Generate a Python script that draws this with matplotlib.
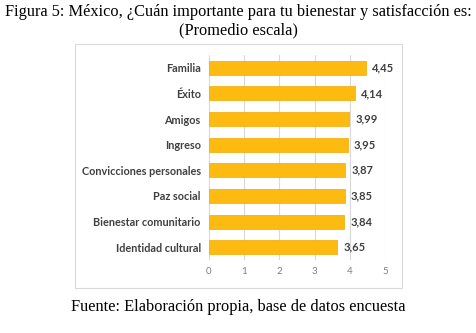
import matplotlib.pyplot as plt
from matplotlib.patches import Rectangle

categorias = ["Familia", "Éxito", "Amigos", "Ingreso", "Convicciones personales",
              "Paz social", "Bienestar comunitario", "Identidad cultural"]
valores = [4.45, 4.14, 3.99, 3.95, 3.87, 3.85, 3.84, 3.65]
ticks = [0, 1, 2, 3, 4, 5]

fig = plt.figure(figsize=(4.76, 3.33), dpi=100)
fig.patch.set_facecolor("white")

# marco del grafico
fig.add_artist(Rectangle((75 / 476, 1 - 288 / 333), 327 / 476, 244 / 333,
                         transform=fig.transFigure, fill=False,
                         edgecolor="#D9D9D9", linewidth=0.8))

ax = fig.add_axes([209 / 476, 1 - 260 / 333, 176 / 476, 205 / 333])
y = list(range(len(categorias)))
ax.barh(y, valores, height=0.55, color="#FDBB12", edgecolor="#F0AA00", linewidth=0.5, zorder=3)
ax.set_ylim(len(categorias) - 0.5, -0.5)
ax.set_xlim(0, 5)
ax.set_xticks(ticks)
ax.set_xticklabels([str(t) for t in ticks], fontsize=7, color="#808080", family="Lato")
ax.set_yticks(y)
ax.set_yticklabels(categorias, fontsize=7.8, color="#404040", fontweight="bold", family="Lato")
ax.tick_params(length=0, pad=6)
ax.tick_params(axis="x", pad=5)
ax.grid(axis="x", color="#D9D9D9", linewidth=0.8, zorder=0)
for s in ax.spines.values():
    s.set_visible(False)

for yi, v in zip(y, valores):
    ax.text(v + 0.17, yi, f"{v:.2f}".replace(".", ","), va="center", ha="left",
            fontsize=8, fontweight="bold", color="#404040", family="Lato")

fig.text(0.5, 1 - 12 / 333, "Figura 5: México, ¿Cuán importante para tu bienestar y satisfacción es:",
         ha="center", va="center", fontsize=11.8, family="Liberation Serif")
fig.text(0.5, 1 - 30 / 333, "(Promedio escala)", ha="center", va="center",
         fontsize=11.8, family="Liberation Serif")
fig.text(0.5, 1 - 307 / 333, "Fuente: Elaboración propia, base de datos encuesta",
         ha="center", va="center", fontsize=11.8, family="Liberation Serif")

fig.savefig("out.png", dpi=100)
